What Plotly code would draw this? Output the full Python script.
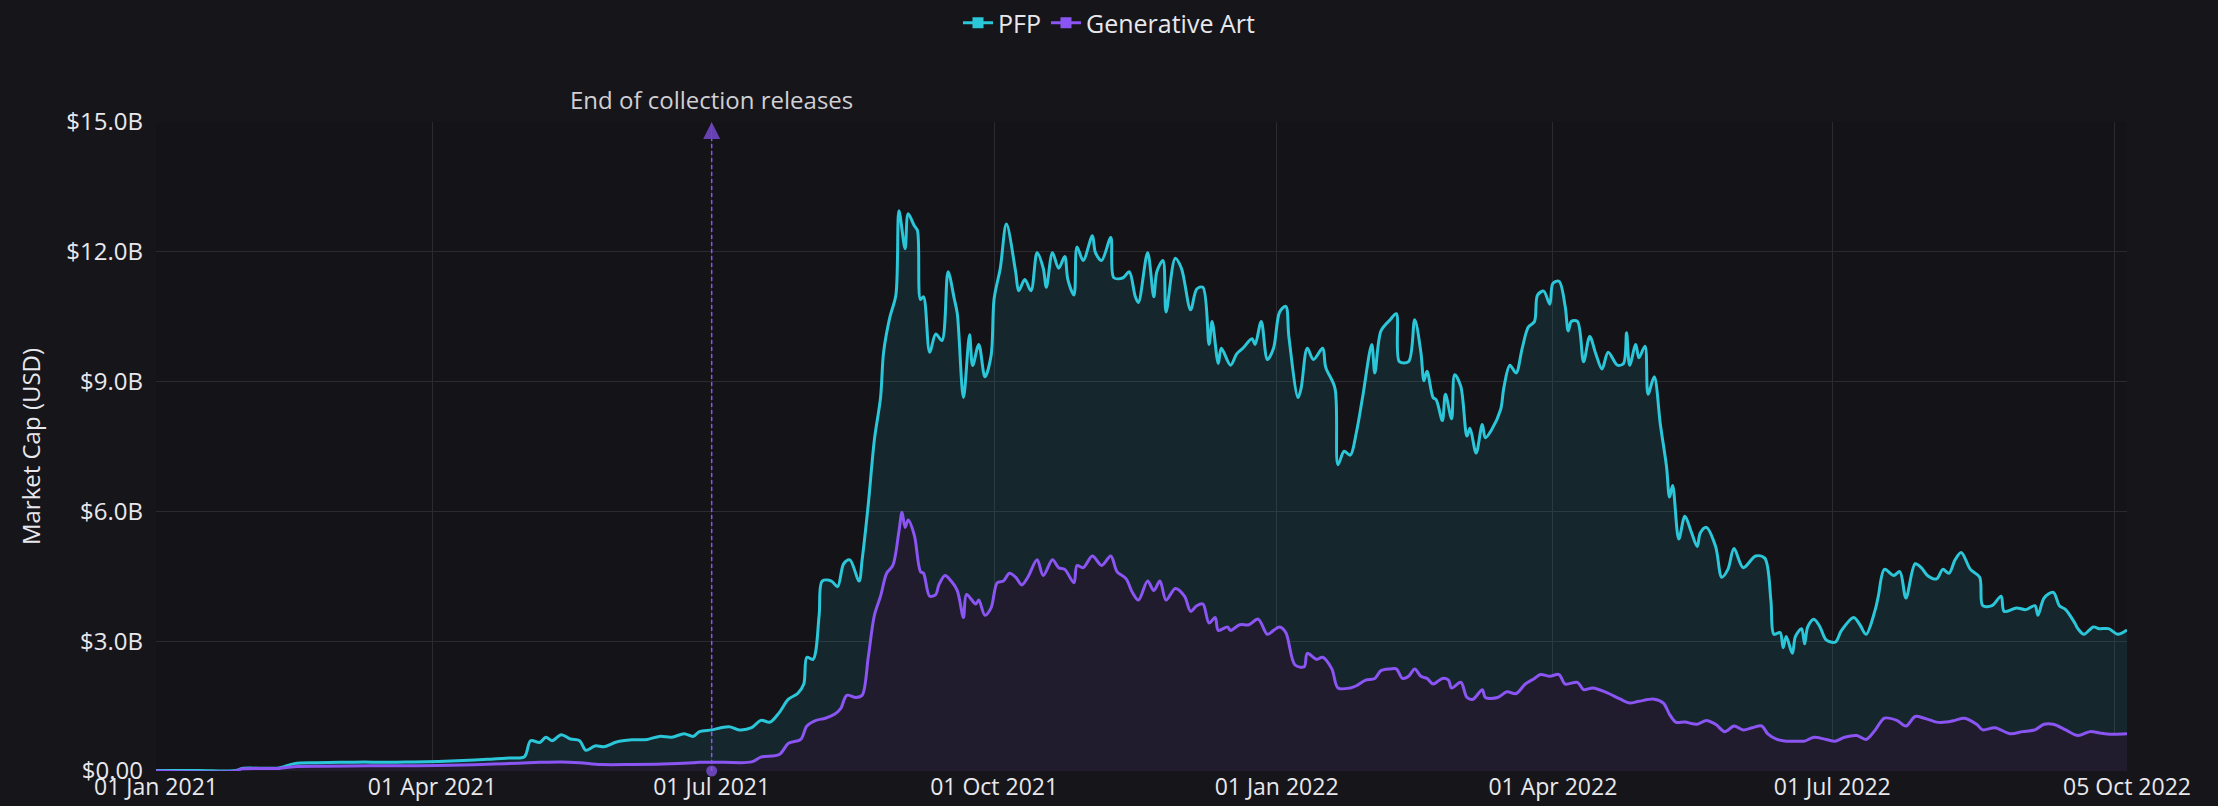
import pandas as pd
import plotly.graph_objects as go

# Market cap readings (billions USD), days counted from 01 Jan 2021
START = pd.Timestamp("2021-01-01")

pfp_days = [
    0, 14, 26, 28, 40, 45, 52, 60, 68, 76, 84, 92, 100, 108, 115, 120, 122, 125, 127, 129,
    132, 135, 138, 140, 143, 146, 150, 155, 160, 164, 168, 172, 175,
    177, 181, 184, 187, 190, 194, 197, 200, 203, 206, 209, 211, 212, 214, 216, 217, 220, 222,
    224, 226, 229, 230, 232, 234, 236, 237, 239, 241, 242, 244, 245, 247, 248, 249, 250, 252,
    254, 256, 258, 260, 261, 263, 265, 266, 268, 270, 272, 273, 275, 277, 280, 281, 283, 285,
    287, 289, 290, 292,
    294, 296, 297, 299, 300, 302, 305, 306, 308, 311, 312, 315, 317, 319, 320, 323, 325, 326,
    328, 329, 332, 334, 337, 339, 341, 343, 344, 346, 347, 350, 352, 354, 357, 358, 360, 362,
    364, 366, 368, 369, 372, 373, 375, 377, 380, 381, 384, 385, 387, 389, 391, 393, 396, 397,
    399, 402, 404, 405, 408, 410,
    412, 413, 414, 416, 417, 419, 420, 422, 423, 425, 427, 428, 430, 432, 433, 435, 438, 439,
    441, 443, 445, 447, 449, 450, 452, 454, 455, 457, 459, 460, 461, 463, 465, 467, 469, 471,
    473, 476, 478, 479, 480, 482, 483, 485, 486, 488, 490, 492, 493, 494, 496, 498, 500, 502,
    503, 505, 508, 510, 512, 514, 517, 521, 524, 526, 527,
    529, 530, 531, 533, 534, 536, 537, 538, 540, 542, 544, 547, 549, 553, 555, 557, 560, 561,
    563, 566, 568, 570, 573, 575, 577, 580, 582, 584, 586, 588, 591, 594, 595, 598, 601, 602,
    606, 609, 612, 613, 615, 618, 620, 622, 625, 626, 628, 631, 633, 636, 639, 642,
]
pfp_values = [
    0.01, 0.01, 0.01, 0.06, 0.07, 0.17, 0.19, 0.20, 0.21, 0.20, 0.21, 0.22, 0.24, 0.27, 0.30, 0.33, 0.70, 0.66, 0.78, 0.70,
    0.84, 0.74, 0.70, 0.48, 0.58, 0.56, 0.67, 0.72, 0.73, 0.80, 0.78, 0.86, 0.80,
    0.91, 0.95, 1.00, 1.02, 0.95, 1.00, 1.17, 1.13, 1.35, 1.66, 1.79, 2.01, 2.63, 2.58, 3.60, 4.39, 4.39, 4.26,
    4.79, 4.88, 4.39, 4.88, 6.16, 7.66, 8.63, 9.68, 10.48, 11.00, 12.95, 12.07, 12.88, 12.60, 12.50, 10.90, 10.96, 9.68,
    10.10, 9.95, 11.54, 10.92, 10.57, 8.63, 10.08, 9.37, 9.86, 9.11, 9.60, 10.92, 11.62, 12.64, 11.54, 11.10, 11.36, 11.10,
    11.98, 11.62, 11.18, 11.98,
    11.62, 11.89, 11.36, 11.00, 12.11, 11.80, 12.37, 11.98, 11.80, 12.33, 11.40, 11.40, 11.54, 10.96, 10.83, 11.98, 10.96, 11.54,
    11.80, 10.61, 11.85, 11.62, 10.66, 11.14, 11.18, 9.86, 10.39, 9.42, 9.77, 9.38, 9.64, 9.77, 9.99, 9.86, 10.39, 9.51,
    9.77, 10.61, 10.74, 10.04, 8.63, 8.85, 9.77, 9.51, 9.77, 9.33, 8.85, 7.08, 7.39, 7.30, 7.83, 8.63, 9.86, 9.20,
    10.17, 10.43, 10.57, 9.46, 9.46, 10.43,
    9.68, 9.02, 9.24, 8.63, 8.58, 8.10, 8.71, 8.14, 9.16, 8.89, 7.74, 7.92, 7.35, 8.01, 7.70, 7.88, 8.36, 8.85,
    9.38, 9.20, 9.77, 10.26, 10.39, 11.00, 11.09, 10.79, 11.27, 11.32, 10.74, 10.17, 10.39, 10.39, 9.46, 10.04, 9.64, 9.29,
    9.68, 9.38, 9.42, 10.13, 9.38, 9.86, 9.55, 9.82, 8.71, 9.11, 8.01, 7.04, 6.33, 6.60, 5.36, 5.89, 5.54, 5.19,
    5.50, 5.63, 5.19, 4.48, 4.66, 5.14, 4.70, 4.97, 4.92, 3.95, 3.16,
    3.20, 2.85, 3.11, 2.72, 3.11, 3.29, 2.94, 3.33, 3.51, 3.33, 3.03, 2.98, 3.25, 3.55, 3.38, 3.16, 3.73, 4.04,
    4.66, 4.52, 4.61, 4.00, 4.79, 4.70, 4.52, 4.44, 4.66, 4.57, 4.88, 5.05, 4.66, 4.48, 3.82, 3.82, 4.04, 3.69,
    3.77, 3.73, 3.82, 3.60, 4.00, 4.13, 3.82, 3.73, 3.42, 3.29, 3.16, 3.33, 3.29, 3.29, 3.16, 3.26,
]

ga_days = [
    0, 26, 28, 40, 45, 55, 70, 85, 100, 110, 118, 125, 132, 138, 145, 155, 165, 175,
    177, 185, 194, 197, 203, 206, 210, 212, 215, 218, 221, 223, 225, 228, 230, 232, 234, 236,
    238, 240, 242, 243, 244, 245, 247, 249, 250, 252, 254, 255, 257, 259, 261, 263, 264, 267,
    268, 270, 272, 274, 276, 278, 280, 282, 284, 287, 289, 292,
    294, 296, 299, 300, 302, 305, 308, 311, 313, 316, 318, 320, 323, 325, 327, 329, 332, 335,
    337, 339, 341, 343, 345, 346, 349, 350, 353, 356, 359, 362, 364, 366, 368, 371, 374, 375,
    378, 380, 383, 385, 389, 391, 394, 397, 399, 402, 404, 406, 408, 410,
    412, 414, 416, 419, 421, 422, 425, 427, 429, 432, 433, 437, 440, 443, 446, 449, 451, 454,
    457, 459, 463, 465, 468, 472, 477, 480, 483, 488, 491, 493, 495, 498, 502, 505, 508, 511,
    514, 517, 520, 523, 525, 528,
    531, 534, 537, 540, 544, 547, 550, 554, 557, 560, 563, 567, 570, 573, 576, 580, 583, 586,
    589, 593, 595, 599, 604, 608, 612, 615, 618, 622, 626, 630, 633, 637, 642,
]
ga_values = [
    0.00, 0.00, 0.05, 0.06, 0.10, 0.11, 0.12, 0.12, 0.14, 0.16, 0.18, 0.20, 0.21, 0.19, 0.15, 0.15, 0.16, 0.19,
    0.20, 0.20, 0.21, 0.32, 0.38, 0.64, 0.73, 1.04, 1.17, 1.22, 1.31, 1.44, 1.75, 1.70, 1.75, 2.63, 3.60, 4.04,
    4.57, 4.75, 5.54, 5.98, 5.63, 5.80, 5.45, 4.61, 4.57, 4.04, 4.08, 4.30, 4.52, 4.39, 4.17, 3.55, 4.08, 3.86,
    3.95, 3.60, 3.77, 4.35, 4.39, 4.57, 4.48, 4.30, 4.48, 4.88, 4.52, 4.88,
    4.70, 4.66, 4.35, 4.75, 4.70, 4.97, 4.75, 4.97, 4.61, 4.44, 4.13, 3.95, 4.39, 4.17, 4.39, 3.95, 4.22, 4.04,
    3.69, 3.82, 3.86, 3.42, 3.55, 3.25, 3.33, 3.25, 3.38, 3.38, 3.51, 3.16, 3.25, 3.33, 3.20, 2.45, 2.41, 2.72,
    2.58, 2.63, 2.36, 1.92, 1.92, 1.97, 2.10, 2.14, 2.32, 2.36, 2.36, 2.14, 2.19, 2.36,
    2.19, 2.14, 2.01, 2.14, 2.10, 1.92, 2.05, 1.70, 1.66, 1.88, 1.70, 1.70, 1.83, 1.79, 2.01, 2.14, 2.23, 2.19,
    2.23, 2.01, 2.05, 1.88, 1.92, 1.83, 1.66, 1.57, 1.61, 1.66, 1.57, 1.31, 1.13, 1.13, 1.08, 1.17, 1.08, 0.91,
    1.04, 0.95, 1.00, 1.04, 0.86, 0.73,
    0.69, 0.69, 0.69, 0.78, 0.73, 0.69, 0.78, 0.82, 0.73, 0.95, 1.22, 1.17, 1.04, 1.26, 1.22, 1.13, 1.13, 1.17,
    1.22, 1.08, 0.95, 1.00, 0.86, 0.91, 0.95, 1.08, 1.08, 0.95, 0.82, 0.91, 0.88, 0.85, 0.86,
]

tick_dates = ["2021-01-01", "2021-04-01", "2021-07-01", "2021-10-01", "2022-01-01",
              "2022-04-01", "2022-07-01", "2022-10-01", "2022-10-05"]
tick_labels = ["01 Jan 2021", "01 Apr 2021", "01 Jul 2021", "01 Oct 2021", "01 Jan 2022",
               "01 Apr 2022", "01 Jul 2022", "", "05 Oct 2022"]
y_ticks = [0, 3, 6, 9, 12, 15]
y_labels = ["$0.00", "$3.0B", "$6.0B", "$9.0B", "$12.0B", "$15.0B"]

release_end = "2021-07-01"
release_text = "End of collection releases"

CYAN = "#2cc6d9"
PURPLE = "#8a55f2"
BG = "#16151a"
GRID = "#2b2a30"
FONT = "Open Sans"

pfp_x = START + pd.to_timedelta(pfp_days, unit="D")
ga_x = START + pd.to_timedelta(ga_days, unit="D")

fig = go.Figure()

# PFP area
fig.add_trace(go.Scatter(
    x=pfp_x, y=pfp_values, mode="lines", name="PFP", showlegend=False,
    line=dict(color=CYAN, width=3, shape="spline", smoothing=0.9),
    fill="tozeroy", fillcolor="rgba(44,198,217,0.11)",
))
# Generative Art area (solid fill so the teal does not mix through)
fig.add_trace(go.Scatter(
    x=ga_x, y=ga_values, mode="lines", name="Generative Art", showlegend=False,
    line=dict(color=PURPLE, width=3, shape="spline", smoothing=0.9),
    fill="tozeroy", fillcolor="#211b2e",
))

# legend entries
for name, col in [("PFP", CYAN), ("Generative Art", PURPLE)]:
    fig.add_trace(go.Scatter(
        x=[None], y=[None], mode="lines+markers", name=name,
        line=dict(color=col, width=3),
        marker=dict(symbol="square", size=11, color=col),
    ))

# release marker line
fig.add_trace(go.Scatter(
    x=[release_end, release_end], y=[0, 15], mode="lines+markers",
    showlegend=False, hoverinfo="skip", cliponaxis=False,
    line=dict(color=PURPLE, width=1.5, dash="4px,3px"),
    marker=dict(symbol=["circle", "arrow-up"], size=[11, 17], color=PURPLE,
                line=dict(width=0)),
))
fig.add_annotation(
    x=release_end, y=1, yref="paper", yanchor="bottom", yshift=4,
    text=release_text, showarrow=False,
    font=dict(family=FONT, size=24, color="#cfcfd4"),
)

fig.update_layout(
    width=2218, height=806,
    paper_bgcolor=BG, plot_bgcolor="#141318",
    font=dict(family=FONT, size=24, color="#e8e8ec"),
    margin=dict(l=156, r=91, t=122, b=35),
    legend=dict(
        orientation="h", xref="container", yref="container",
        x=0.5, xanchor="center", y=1, yanchor="top",
        font=dict(size=25, color="#e8e8ec"), bgcolor="rgba(0,0,0,0)",
    ),
    showlegend=True,
)
fig.update_xaxes(
    type="date", range=["2021-01-01", "2022-10-05"],
    tickvals=tick_dates, ticktext=tick_labels,
    tickfont=dict(size=23),
    showgrid=True, gridcolor=GRID, gridwidth=1,
    zeroline=False, showline=False, ticks="", automargin=False,
    ticklabelstandoff=0,
)
fig.update_yaxes(
    range=[0, 15], tickvals=y_ticks, ticktext=y_labels,
    showgrid=True, gridcolor=GRID, gridwidth=1,
    zeroline=False, showline=False, ticks="", ticklabelstandoff=12,
    automargin=False,
    title=dict(text="Market Cap (USD)", standoff=18, font=dict(size=24, color="#e8e8ec")),
)

fig.write_html("out.html", config={"displayModeBar": False},
               post_script="document.body.style.margin='0';")
